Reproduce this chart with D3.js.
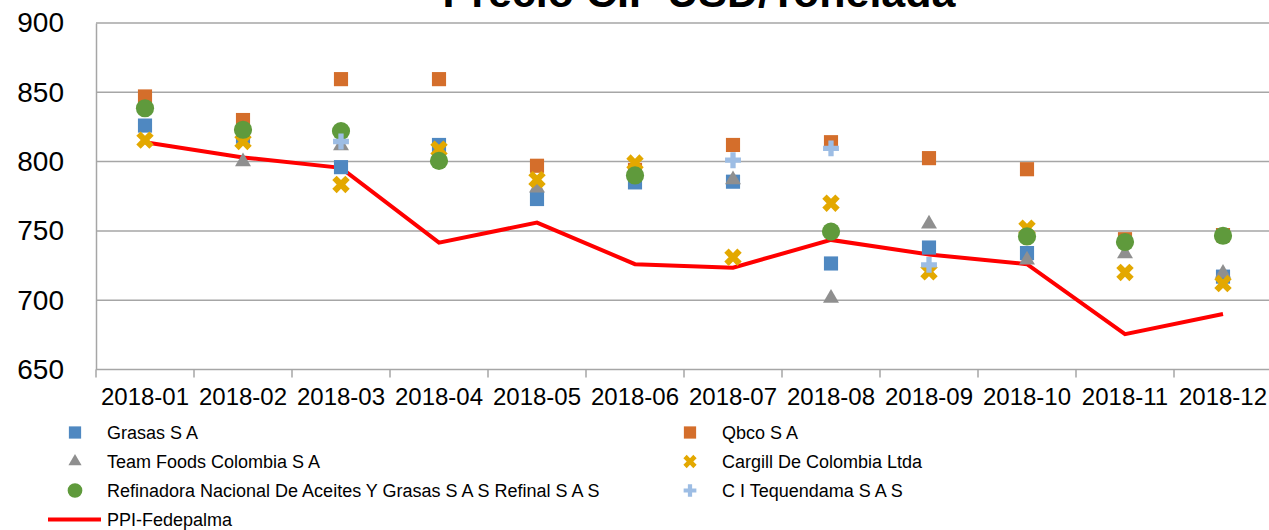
<!DOCTYPE html>
<meta charset="utf-8">
<style>
body { margin: 0; background: #fff; }
text { font-family: "Liberation Sans", Arial, sans-serif; fill: #000; }
.grid line { stroke: #a6a6a6; stroke-width: 1.5px; }
.axis path, .axis line { stroke: #a6a6a6; stroke-width: 1.5px; }
</style>
<body>
<script src="https://cdnjs.cloudflare.com/ajax/libs/d3/7.8.5/d3.min.js"></script>
<script>
// months on the x axis
var months = ["2018-01","2018-02","2018-03","2018-04","2018-05","2018-06",
              "2018-07","2018-08","2018-09","2018-10","2018-11","2018-12"];
var yTicks = [650, 700, 750, 800, 850, 900];

// one array per company, null = no purchase that month
var grasas      = [826, 818, 796, 812, 773, 785, 785.5, 726.5, 738, 734, null, 717];
var qbco        = [847, 830, 859.5, 859.5, 797, 794, 812, 814, 802.5, 794.5, 744, 747];
var teamFoods   = [null, 800, 811.5, null, 781, null, 787, 701.5, 755, 729, 733.5, 719.5];
var cargill     = [815.5, 814.5, 783.5, 809, 787, 799, 731, 770, 720.5, 752, 720, 712];
var refinadora  = [838.5, 823, 822, 800.5, null, 790, null, 749.5, null, 746, 742, 746.5];
var tequendama  = [null, null, 814.5, null, null, null, 801, 809.5, 725.5, null, null, null];
var ppi         = [814, 803, 795.5, 741.5, 756, 726, 723.5, 743.5, 733, 726, 675.5, 690];

var width = 1269, height = 530;
// plot runs a little past the right edge, like the reference
var plotL = 96, plotR = 1272, plotT = 23, plotB = 369.5;

var svg = d3.select("body").append("svg")
    .attr("width", width)
    .attr("height", height);

var x = d3.scaleBand().domain(months).range([plotL, plotR]);
var y = d3.scaleLinear().domain([650, 900]).range([plotB, plotT]);

// horizontal gridlines
svg.append("g").attr("class", "grid")
  .selectAll("line")
  .data(yTicks.slice(1))
  .enter().append("line")
    .attr("x1", plotL).attr("x2", plotR)
    .attr("y1", function(d) { return y(d); })
    .attr("y2", function(d) { return y(d); });

// y axis: only a line and labels
var yAxis = svg.append("g").attr("class", "axis")
    .attr("transform", "translate(" + plotL + ",0)")
    .call(d3.axisLeft(y).tickValues(yTicks).tickSize(0).tickPadding(32));
yAxis.selectAll("text").style("font-size", "28px");

// x axis with ticks on the band edges
var xAxis = svg.append("g").attr("class", "axis")
    .attr("transform", "translate(0," + plotB + ")")
    .call(d3.axisBottom(x).tickSize(0).tickPadding(18));
xAxis.select(".domain").attr("d", "M" + plotL + ",0H" + plotR);
xAxis.selectAll("text").style("font-size", "24px");
xAxis.selectAll(".edge")
  .data(d3.range(months.length + 1))
  .enter().append("line")
    .attr("class", "edge")
    .attr("x1", function(i) { return plotL + i * x.bandwidth(); })
    .attr("x2", function(i) { return plotL + i * x.bandwidth(); })
    .attr("y1", 0).attr("y2", 8);

// title, mostly cut by the top edge
svg.append("text")
    .attr("x", 699).attr("y", 7)
    .attr("text-anchor", "middle")
    .style("font-size", "43px")
    .style("font-weight", "bold")
    .text("Precio CIF USD/Tonelada");

var cx = function(i) { return x(months[i]) + x.bandwidth() / 2; };

// PPI line under the markers
var line = d3.line()
    .x(function(d, i) { return cx(i); })
    .y(function(d) { return y(d); });
svg.append("path")
    .datum(ppi)
    .attr("d", line)
    .attr("fill", "none")
    .attr("stroke", "#ff0000")
    .attr("stroke-width", 4);

var series = [
  {name: "Grasas S A", values: grasas, color: "#4f88c1", type: d3.symbolSquare, size: 200, lsize: 150, rot: 0},
  {name: "Qbco S A", values: qbco, color: "#d46e2b", type: d3.symbolSquare, size: 200, lsize: 150, rot: 0},
  {name: "Team Foods Colombia S A", values: teamFoods, color: "#8f8f8f", type: d3.symbolTriangle, size: 110, lsize: 75, rot: 0},
  {name: "Cargill De Colombia Ltda", values: cargill, color: "#e3a800", type: d3.symbolCross, size: 190, lsize: 110, rot: 45},
  {name: "Refinadora Nacional De Aceites Y Grasas S A S Refinal S A S", values: refinadora, color: "#5f9a3c", type: d3.symbolCircle, size: 260, lsize: 170, rot: 0},
  {name: "C I Tequendama S A S", values: tequendama, color: "#9dbde4", type: d3.symbolCross, size: 140, lsize: 90, rot: 0}
];

series.forEach(function(s) {
  var pts = s.values.map(function(v, i) { return {v: v, i: i}; })
      .filter(function(d) { return d.v != null; });
  svg.append("g").selectAll("path")
    .data(pts)
    .enter().append("path")
      .attr("d", d3.symbol().type(s.type).size(s.size))
      .attr("fill", s.color)
      .attr("transform", function(d) {
        return "translate(" + cx(d.i) + "," + y(d.v) + ") rotate(" + s.rot + ")";
      });
});

// legend, two columns
var legend = svg.append("g");
series.forEach(function(s, k) {
  var col = k % 2, row = Math.floor(k / 2);
  var mx = col == 0 ? 75 : 690;
  var my = 432.5 + row * 29;
  legend.append("path")
    .attr("d", d3.symbol().type(s.type).size(s.lsize))
    .attr("fill", s.color)
    .attr("transform", "translate(" + mx + "," + my + ") rotate(" + s.rot + ")");
  legend.append("text")
    .attr("x", mx + 32).attr("y", my)
    .attr("dy", "0.36em")
    .style("font-size", "18px")
    .text(s.name);
});
legend.append("line")
    .attr("x1", 48).attr("x2", 101)
    .attr("y1", 519.5).attr("y2", 519.5)
    .attr("stroke", "#ff0000")
    .attr("stroke-width", 4);
legend.append("text")
    .attr("x", 107).attr("y", 519.5)
    .attr("dy", "0.36em")
    .style("font-size", "18px")
    .text("PPI-Fedepalma");
</script>
